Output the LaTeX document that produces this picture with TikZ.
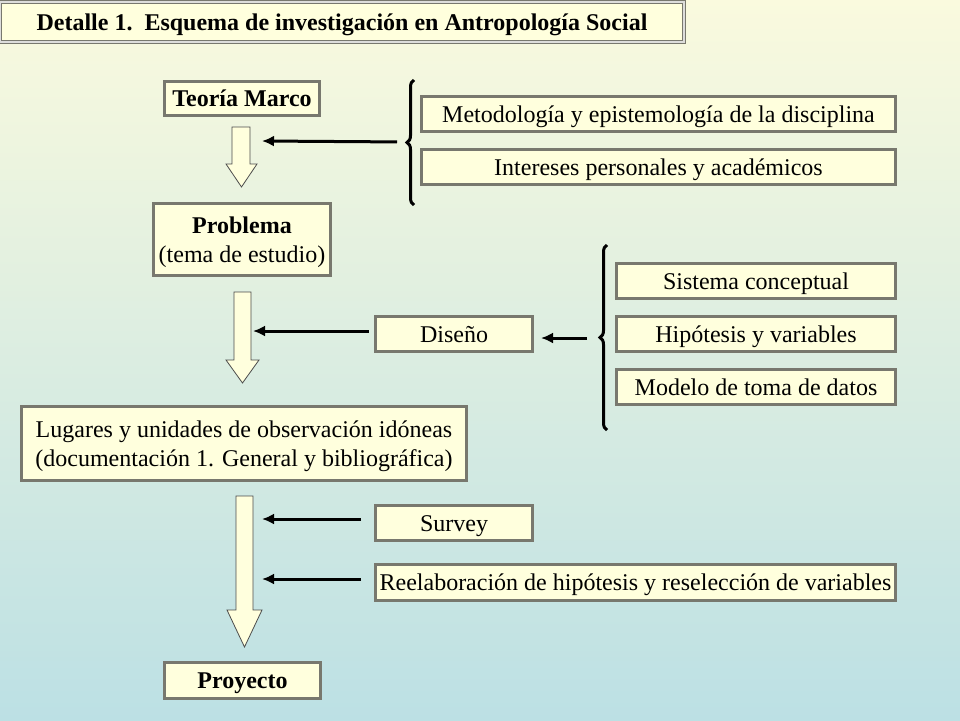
\documentclass[tikz,border=0pt]{standalone}
\usepackage{fontspec}
\setmainfont{Liberation Serif}
\usetikzlibrary{arrows.meta,positioning,calc,decorations.pathreplacing}

\definecolor{bgtop}{RGB}{250,250,222}
\definecolor{bgbot}{RGB}{188,224,228}
\definecolor{boxfill}{RGB}{255,255,221}
\definecolor{boxline}{RGB}{120,120,110}

\begin{document}
\begin{tikzpicture}[x=1pt,y=-1pt,
    box/.style={draw=boxline, line width=3pt, fill=boxfill, inner sep=0pt, align=center,
      text height=18pt, text depth=2pt, font=\fontsize{24}{29}\selectfont},
    boldbox/.style={box, font=\fontsize{24}{29}\selectfont\bfseries},
    twolines/.style={text height=47pt},
    blockarrow/.style={draw=black!70, line width=0.8pt, fill=boxfill, line join=miter},
    conn/.style={-{Latex[length=12pt,width=11pt]}, line width=3pt},
    curly/.style={decorate, decoration={brace, amplitude=7pt}, line width=3pt}]
    % background
    \shade[top color=bgtop, bottom color=bgbot] (0,0) rectangle (960,720);
    \useasboundingbox (0,0) rectangle (960,720);
    % title
    \node[boldbox, line width=1.5pt, double=white!75!boxline, double distance=1.5pt,
      minimum width=684, minimum height=40] (titulo) at (342,22)
      {Detalle 1.\ \ Esquema de investigación en Antropología Social};
    % main column
    \node[boldbox, minimum width=155, minimum height=34] (teoria) at (242,98.5) {Teoría Marco};
    \node[box, twolines, minimum width=177, minimum height=72] (problema) at (242,239.5)
      {\textbf{Problema}\\(tema de estudio)};
    \node[box, twolines, minimum width=445, minimum height=74] (lugares) at (244,443.5)
      {Lugares y unidades de observación idóneas\\(documentación 1. General y bibliográfica)};
    \node[boldbox, minimum width=156, minimum height=36] (proyecto) at (242.5,680.5) {Proyecto};
    % block arrows
    \draw[blockarrow] (232,127) -- (250,127) -- (250,164) -- (257,164) -- (241.5,187)
      -- (226,164) -- (232,164) -- cycle;
    \draw[blockarrow] (234,292) -- (251,292) -- (251,360) -- (259,360) -- (242.5,383)
      -- (226,360) -- (234,360) -- cycle;
    \draw[blockarrow] (236,496) -- (253,496) -- (253,610) -- (262,610) -- (244.5,647)
      -- (227,610) -- (236,610) -- cycle;
    % first group
    \node[box, minimum width=474, minimum height=35] (metodo) at (658.5,114)
      {Metodología y epistemología de la disciplina};
    \node[box, minimum width=474, minimum height=35] (intereses) at (658.5,167)
      {Intereses personales y académicos};
    \draw[curly] (414,205) -- (414,80);
    \coordinate (llaveA) at (407,142);
    \coordinate (flechaA) at (262,141);
    \draw[conn, shorten <=10pt] (llaveA) -- (flechaA);
    % design group
    \node[box, minimum width=157, minimum height=35] (diseno) at (454,334) {Diseño};
    \node[box, minimum width=279, minimum height=35] (sistema) at (756,281) {Sistema conceptual};
    \node[box, minimum width=279, minimum height=35] (hipotesis) at (756,334) {Hipótesis y variables};
    \node[box, minimum width=279, minimum height=35] (modelo) at (756,387) {Modelo de toma de datos};
    \draw[curly] (607,430) -- (607,245);
    \coordinate (llaveB) at (600,338);
    \draw[conn, shorten <=13pt, shorten >=7pt] (llaveB) -- (diseno.east |- llaveB);
    \coordinate (flechaB) at (253,331);
    \draw[conn, shorten <=5.5pt] (diseno.west |- flechaB) -- (flechaB);
    % survey
    \node[box, minimum width=157, minimum height=35] (survey) at (454,523) {Survey};
    \node[box, minimum width=520, minimum height=36] (reelab) at (635.5,582.5)
      {Reelaboración de hipótesis y reselección de variables};
    \coordinate (flechaC) at (262,519);
    \coordinate (flechaD) at (262,579);
    \draw[conn, shorten <=13pt] (survey.west |- flechaC) -- (flechaC);
    \draw[conn, shorten <=13pt] (reelab.west |- flechaD) -- (flechaD);
\end{tikzpicture}
\end{document}
